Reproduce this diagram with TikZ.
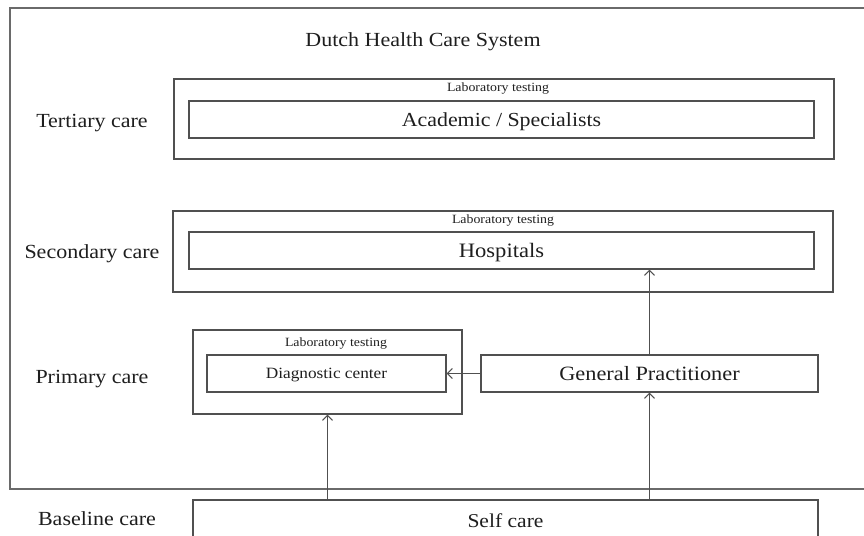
\documentclass[tikz,border=0pt]{standalone}
\usepackage{fontspec}
\setmainfont[FakeStretch=1.1]{Liberation Serif}
\usetikzlibrary{arrows.meta}
\definecolor{edge}{HTML}{505050}
\definecolor{ink}{HTML}{1E1E1E}
\tikzset{
  box/.style={draw=edge, line width=1.3pt, rectangle, inner sep=0pt, text=ink, text depth=0pt},
  frame/.style={draw=edge!85, line width=1.6pt, rectangle, inner sep=0pt},
  lab/.style={text=ink, font=\fontsize{12.6}{14}\selectfont, inner sep=0pt},
  level/.style={text=ink, font=\fontsize{20}{22}\selectfont, inner sep=0pt},
  arr/.style={draw=edge, line width=1.1pt, -{Straight Barb[length=5pt,width=10pt]}},
}
\begin{document}
\begin{tikzpicture}[x=1pt, y=-1pt]
  \useasboundingbox (0,0) rectangle (864,535);
  \clip (0,0) rectangle (864,535);

  % whole care system
  \node[frame, minimum width=880pt, minimum height=481pt] (sys) at (450,248.5) {};
  \node[level] (title) at (423,42) {Dutch Health Care System};

  % level labels
  \node[level] (lt) at (92,123) {Tertiary care};
  \node[level] (ls) at (92,254) {Secondary care};
  \node[level] (lp) at (92,379) {Primary care};
  \node[level] (lb) at (97,519) {Baseline care};

  % tertiary care
  \node[box, minimum width=660pt, minimum height=80pt] (ter) at (504,119) {};
  \node[lab] (terlab) at (498,88) {Laboratory testing};
  \node[box, minimum width=625pt, minimum height=37pt, font=\fontsize{19.9}{22}\selectfont] (acad) at (501.5,119.5) {Academic / Specialists};

  % secondary care
  \node[box, minimum width=660pt, minimum height=81pt] (sec) at (503,251.5) {};
  \node[lab] (seclab) at (503,220) {Laboratory testing};
  \node[box, minimum width=625pt, minimum height=37pt, font=\fontsize{20.5}{22}\selectfont] (hosp) at (501.5,250.5) {Hospitals};

  % primary care
  \node[box, minimum width=269pt, minimum height=84pt] (pri) at (327.5,372) {};
  \node[lab] (prilab) at (336,343) {Laboratory testing};
  \node[box, minimum width=239pt, minimum height=37pt, font=\fontsize{15.7}{18}\selectfont] (diag) at (326.5,373.5) {Diagnostic center};
  \node[box, minimum width=337pt, minimum height=37pt, font=\fontsize{20.3}{22}\selectfont] (gp) at (649.5,373.5) {General Practitioner};

  % baseline care
  \node[box, minimum width=625pt, minimum height=42pt, font=\fontsize{19.6}{22}\selectfont] (self) at (505.5,521) {Self care};

  % referrals
  \draw[arr] (self.north -| pri.south) -- (pri.south);
  \draw[arr] (self.north -| gp.south) -- (gp.south);
  \draw[arr] (gp.north) -- (hosp.south -| gp.north);
  \draw[arr] (gp.west) -- (diag.east);
\end{tikzpicture}
\end{document}
